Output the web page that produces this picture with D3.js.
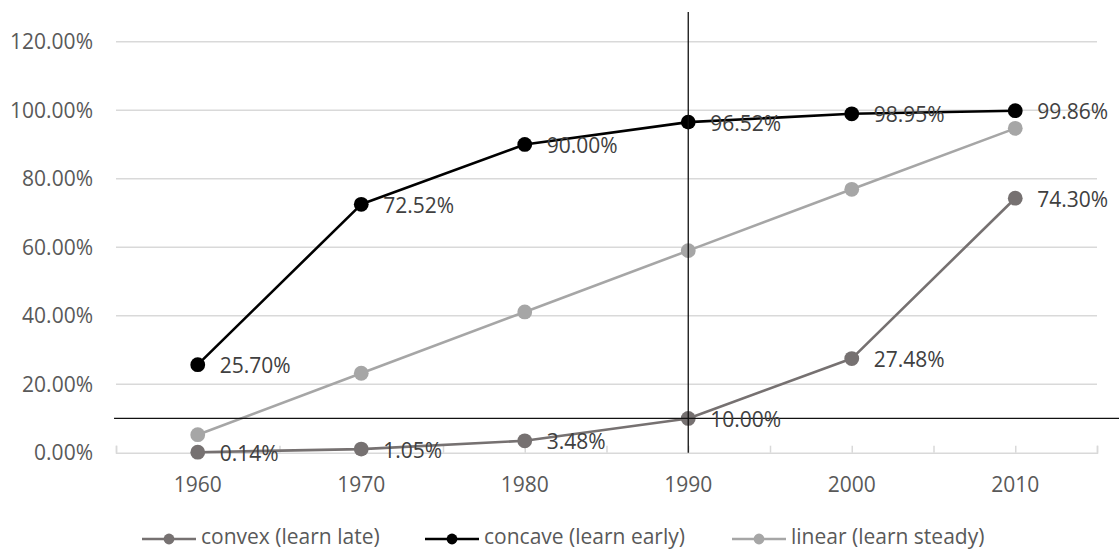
<!DOCTYPE html>
<html>
<head>
<meta charset="utf-8">
<script src="https://cdn.jsdelivr.net/npm/d3@7"></script>
<style>
  html, body { margin: 0; padding: 0; background: #ffffff; }
  svg { display: block; font-family: "Open Sans", sans-serif; }
</style>
</head>
<body>
<svg id="chart" width="1119" height="551"></svg>
<script>
// Years on the horizontal axis
const years = [1960, 1970, 1980, 1990, 2000, 2010];

// Share of people who have learned, per decade, for three learning curves
const convexValues  = [0.0014, 0.0105, 0.0348, 0.10, 0.2748, 0.7430];
const concaveValues = [0.2570, 0.7252, 0.90, 0.9652, 0.9895, 0.9986];
const linearValues  = [0.0526, 0.232, 0.411, 0.590, 0.769, 0.947];

const seriesNames = ["convex (learn late)", "concave (learn early)", "linear (learn steady)"];

// Axis ticks
const yTickValues = [0, 0.2, 0.4, 0.6, 0.8, 1.0, 1.2];
const xTickValues = [1955, 1960, 1965, 1970, 1975, 1980, 1985, 1990, 1995, 2000, 2005, 2010, 2015];
const xLabelValues = [1960, 1970, 1980, 1990, 2000, 2010];

// Crosshair marking the 10% threshold reached in 1990
const markYear = 1990;
const markValue = 0.10;
const markYearTop = 1.287;

const series = [
  { name: seriesNames[0], values: convexValues,  color: "#767171", labels: true },
  { name: seriesNames[1], values: concaveValues, color: "#000000", labels: true },
  { name: seriesNames[2], values: linearValues,  color: "#a6a6a6", labels: false }
];

const svg = d3.select("#chart");
const W = 1119, H = 551;
const plot = { left: 116, right: 1097, top: 41.7, bottom: 452.7 };

const x = d3.scaleLinear().domain([1955, 2015]).range([plot.left, plot.right]);
const y = d3.scaleLinear().domain([0, 1.2]).range([plot.bottom, plot.top]);
const pct = d3.format(".2%");

// Horizontal gridlines
svg.append("g")
  .selectAll("line")
  .data(yTickValues.filter(v => v > 0))
  .join("line")
  .attr("x1", plot.left).attr("x2", plot.right)
  .attr("y1", d => y(d)).attr("y2", d => y(d))
  .attr("stroke", "#d9d9d9").attr("stroke-width", 1.5);

// Y axis labels
svg.append("g")
  .selectAll("text")
  .data(yTickValues)
  .join("text")
  .attr("x", 93)
  .attr("y", d => y(d))
  .attr("dy", "0.36em")
  .attr("text-anchor", "end")
  .attr("font-size", 21)
  .attr("fill", "#595959")
  .text(d => pct(d));

// X axis line with inward ticks
const xAxis = d3.axisBottom(x)
  .tickValues(xTickValues)
  .tickSizeInner(-7)
  .tickSizeOuter(-7)
  .tickFormat("");
const gx = svg.append("g")
  .attr("transform", `translate(0,${plot.bottom})`)
  .call(xAxis);
gx.select(".domain").attr("stroke", "#d9d9d9").attr("stroke-width", 1.5);
gx.selectAll(".tick line").attr("stroke", "#d9d9d9").attr("stroke-width", 1.5);

// X axis labels
svg.append("g")
  .selectAll("text")
  .data(xLabelValues)
  .join("text")
  .attr("x", d => x(d))
  .attr("y", 492)
  .attr("text-anchor", "middle")
  .attr("font-size", 21)
  .attr("fill", "#595959")
  .text(d => d);

// Series lines and markers
const line = d3.line()
  .x((d, i) => x(years[i]))
  .y(d => y(d));

series.forEach(s => {
  const g = svg.append("g");
  g.append("path")
    .datum(s.values)
    .attr("d", line)
    .attr("fill", "none")
    .attr("stroke", s.color)
    .attr("stroke-width", 2.6)
    .attr("stroke-linejoin", "round");
  g.selectAll("circle")
    .data(s.values)
    .join("circle")
    .attr("cx", (d, i) => x(years[i]))
    .attr("cy", d => y(d))
    .attr("r", 7.4)
    .attr("fill", s.color);
});

// Crosshair lines
svg.append("line")
  .attr("x1", x(markYear)).attr("x2", x(markYear))
  .attr("y1", y(markYearTop)).attr("y2", y(0))
  .attr("stroke", "#111111").attr("stroke-width", 1.3);
svg.append("line")
  .attr("x1", x(1954.88)).attr("x2", W)
  .attr("y1", y(markValue)).attr("y2", y(markValue))
  .attr("stroke", "#111111").attr("stroke-width", 1.3);

// Value labels to the right of each point
series.filter(s => s.labels).forEach(s => {
  svg.append("g")
    .selectAll("text")
    .data(s.values)
    .join("text")
    .attr("x", (d, i) => x(years[i]) + 22)
    .attr("y", d => y(d) + 1)
    .attr("dy", "0.36em")
    .attr("font-size", 21)
    .attr("fill", "#404040")
    .text(d => pct(d));
});

// Legend
const legendItems = [
  { s: series[0], x: 142 },
  { s: series[1], x: 425 },
  { s: series[2], x: 732 }
];
const legendY = 539;
const lg = svg.append("g");
legendItems.forEach(item => {
  const g = lg.append("g");
  g.append("line")
    .attr("x1", item.x).attr("x2", item.x + 54)
    .attr("y1", legendY).attr("y2", legendY)
    .attr("stroke", item.s.color).attr("stroke-width", 2.6);
  g.append("circle")
    .attr("cx", item.x + 27).attr("cy", legendY)
    .attr("r", 5.4)
    .attr("fill", item.s.color);
  g.append("text")
    .attr("x", item.x + 59)
    .attr("y", 544)
    .attr("font-size", 21)
    .attr("fill", "#595959")
    .text(item.s.name);
});
</script>
</body>
</html>
